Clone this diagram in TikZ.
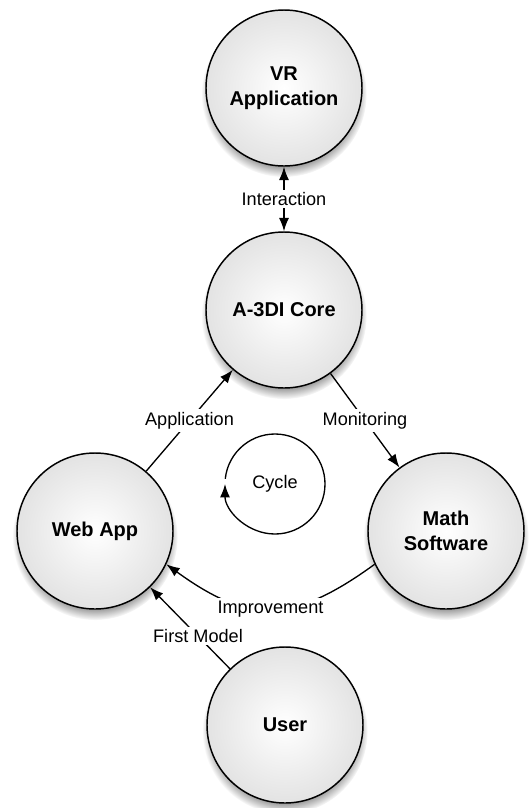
\documentclass[tikz,border=0pt]{standalone}
\usepackage{fontspec}
\setmainfont{Liberation Sans}
\usetikzlibrary{shadows,arrows.meta}
\tikzset{
    % components
    component/.style={
        circle,
        draw=black,
        line width=1.1pt,
        shading=radial,
        inner color=white,
        outer color=gray!22,
        minimum size=117pt,
        align=center,
        font=\fontsize{15}{18.75}\selectfont\bfseries,
        circular drop shadow={shadow xshift=0pt, shadow yshift=-4.5pt, shadow scale=1.06, opacity=.85}
    },
    % arrows
    link/.style={
        line width=1pt,
        color=black
    },
    link-label/.style={
        fill=white,
        inner sep=2pt,
        font=\fontsize{13.6}{16}\selectfont
    }
}

\begin{document}
\begin{tikzpicture}[x=0.75pt, y=0.75pt, >={Latex[length=10pt,width=7.5pt]}]

        \useasboundingbox (0,0) rectangle (532,-808);

        % draw nodes
        \node [component] (vr) at (284,-88) {VR\\Application};
        \node [component] (core) at (284,-310) {A-3DI Core};
        \node [component] (web) at (95,-531) {Web App};
        \node [component] (math) at (446,-531) {Math\\Software};
        \node [component] (user) at (285,-725) {User};

        % draw edges
        \draw [link, <->] (vr) -- (core) node [link-label, midway] {Interaction};
        \draw [link, ->] (web) -- (core) node [link-label, midway] {Application};
        \draw [link, ->] (core) -- (math) node [link-label, midway] {Monitoring};
        \draw [link, ->] (math.205) to [out=216, in=-36, looseness=1.25] node [link-label, midway] {Improvement} (web.-25);
        \draw [link, ->] (user) -- (web) node [link-label, pos=.4] {First Model};

        % cycle
        \node [link-label, fill=none] (cycle-label) at (275,-484) {Cycle};
        \draw [link, ->] (cycle-label.center) ++(174:50) arc [start angle=174, end angle=-180, radius=50];

\end{tikzpicture}
\end{document}
